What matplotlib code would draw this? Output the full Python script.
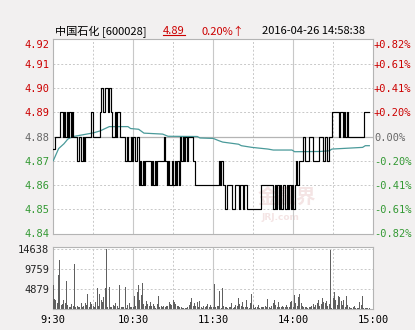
import matplotlib
matplotlib.use("Agg")
import matplotlib.pyplot as plt
from matplotlib.lines import Line2D

# Intraday data, one value per minute from 9:30 (lunch break removed)
price = [
    4.875, 4.88, 4.88, 4.88, 4.88, 4.89, 4.89, 4.88, 4.89, 4.88,
    4.89, 4.88, 4.89, 4.88, 4.89, 4.88, 4.88, 4.88, 4.87, 4.88,
    4.88, 4.87, 4.88, 4.87, 4.88, 4.88, 4.88, 4.88, 4.89, 4.89,
    4.88, 4.88, 4.88, 4.88, 4.88, 4.89, 4.90, 4.89, 4.89, 4.90,
    4.90, 4.89, 4.90, 4.89, 4.88, 4.88, 4.89, 4.88, 4.89, 4.89,
    4.88, 4.88, 4.88, 4.88, 4.87, 4.88, 4.87, 4.87, 4.88, 4.87,
    4.88, 4.87, 4.87, 4.88, 4.86, 4.87, 4.86, 4.87, 4.86, 4.87,
    4.87, 4.87, 4.87, 4.86, 4.87, 4.86, 4.87, 4.86, 4.87, 4.87,
    4.87, 4.87, 4.87, 4.88, 4.87, 4.86, 4.87, 4.86, 4.86, 4.87,
    4.86, 4.87, 4.86, 4.87, 4.86, 4.88, 4.87, 4.88, 4.87, 4.88,
    4.87, 4.88, 4.88, 4.88, 4.88, 4.87, 4.86, 4.86, 4.86, 4.86,
    4.86, 4.86, 4.86, 4.86, 4.86, 4.86, 4.86, 4.86, 4.86, 4.86,
    4.86, 4.86, 4.86, 4.86, 4.87, 4.86, 4.87, 4.86, 4.86, 4.85,
    4.86, 4.86, 4.86, 4.86, 4.85, 4.85, 4.86, 4.86, 4.86, 4.85,
    4.86, 4.86, 4.85, 4.86, 4.86, 4.85, 4.85, 4.85, 4.85, 4.85,
    4.85, 4.85, 4.85, 4.85, 4.85, 4.85, 4.86, 4.86, 4.86, 4.86,
    4.86, 4.86, 4.86, 4.86, 4.86, 4.85, 4.86, 4.85, 4.86, 4.85,
    4.86, 4.85, 4.86, 4.86, 4.85, 4.86, 4.85, 4.86, 4.85, 4.86,
    4.85, 4.86, 4.87, 4.86, 4.87, 4.87, 4.87, 4.88, 4.88, 4.87,
    4.87, 4.87, 4.88, 4.88, 4.88, 4.87, 4.87, 4.87, 4.87, 4.88,
    4.88, 4.88, 4.87, 4.87, 4.88, 4.87, 4.87, 4.88, 4.88, 4.89,
    4.89, 4.89, 4.89, 4.89, 4.88, 4.89, 4.89, 4.88, 4.89, 4.88,
    4.89, 4.88, 4.88, 4.88, 4.88, 4.88, 4.88, 4.88, 4.88, 4.88,
    4.88, 4.88, 4.88, 4.89, 4.89, 4.89, 4.89, 4.89,
]

volume = [
    5900, 2500, 2300, 1500, 8400, 12000, 1050, 1200, 2300, 1500,
    6900, 1050, 650, 650, 1200, 900, 11000, 650, 800, 570,
    650, 1500, 500, 800, 1500, 1050, 3650, 650, 1700, 1200,
    800, 650, 1700, 5100, 800, 3650, 2300, 1700, 3100, 5100,
    14638, 650, 5500, 500, 650, 1050, 800, 1500, 900, 400,
    5900, 650, 500, 650, 5450, 400, 1050, 1500, 500, 500,
    570, 3350, 900, 4300, 5900, 2300, 3500, 6500, 1200, 800,
    2000, 1200, 800, 1700, 900, 1200, 800, 400, 1200, 3350,
    650, 800, 500, 900, 650, 800, 800, 1700, 1200, 1050,
    2300, 1900, 1200, 800, 800, 500, 570, 400, 400, 400,
    400, 570, 1050, 1900, 2850, 800, 1500, 900, 1700, 650,
    2000, 650, 400, 800, 650, 900, 1200, 650, 1050, 650,
    650, 6100, 650, 800, 800, 4470, 400, 5100, 800, 650,
    500, 250, 650, 650, 1450, 400, 570, 1050, 800, 2700,
    1200, 800, 1900, 650, 650, 2300, 650, 400, 1450, 3650,
    1050, 400, 570, 650, 1050, 400, 650, 650, 500, 800,
    650, 2450, 650, 400, 800, 1450, 2300, 1050, 650, 1900,
    650, 650, 800, 500, 570, 1050, 650, 570, 1700, 2000,
    650, 3500, 1450, 800, 3100, 3650, 1450, 800, 570, 650,
    500, 400, 650, 650, 800, 1200, 650, 1050, 1450, 2300,
    900, 1200, 2700, 1700, 1450, 2000, 800, 1200, 14470, 400,
    2700, 4150, 2300, 1050, 3250, 3100, 2000, 1050, 2300, 650,
    3250, 1050, 650, 250, 250, 650, 800, 250, 250, 250,
    1900, 1050, 3250, 250, 250, 400, 250, 250,
]

# average price line, read at (minute, price) points
avg_minutes = [0, 4, 8, 11, 15, 30, 35, 42, 56, 58, 64, 68, 82, 86, 108, 110,
               120, 124, 127, 139, 141, 149, 161, 165, 179, 181, 200, 207, 209, 232, 234, 237]
avg_price = [4.870, 4.875, 4.877, 4.879, 4.880, 4.8815, 4.8823, 4.8841, 4.8841, 4.8833,
             4.8830, 4.8814, 4.8810, 4.8801, 4.8800, 4.8794, 4.8792, 4.8783, 4.8777, 4.8768,
             4.8762, 4.8755, 4.8748, 4.8744, 4.8744, 4.8737, 4.8738, 4.8741, 4.8748, 4.8755,
             4.8762, 4.8762]

price_ticks = [4.92, 4.91, 4.90, 4.89, 4.88, 4.87, 4.86, 4.85, 4.84]
pct_labels = ["+0.82%", "+0.61%", "+0.41%", "+0.20%", "0.00%",
              "-0.20%", "-0.41%", "-0.61%", "-0.82%"]
vol_ticks = [4879, 9759, 14638]
time_ticks = [0, 60, 120, 180, 240]
time_labels = ["9:30", "10:30", "11:30", "14:00", "15:00"]
prev_close = 4.88

RED = "#cc0000"
GREEN = "#339933"
GRAY = "#666666"
GRID = "#c8c8c8"
MONO = "DejaVu Sans Mono"

W, H = 415, 330
fig = plt.figure(figsize=(W / 100, H / 100), dpi=100, facecolor="#f2f0f0")


def px_axes(left, top, right, bottom):
    return fig.add_axes([left / W, 1 - bottom / H, (right - left) / W, (bottom - top) / H])


ax = px_axes(53.3, 38.5, 373.3, 233.8)
axv = px_axes(53.3, 247.3, 373.3, 309.3)

for a in (ax, axv):
    a.set_facecolor("white")
    a.set_xlim(0, 240)
    for s in a.spines.values():
        s.set_color("#b4b4b4")
        s.set_linewidth(0.8)
    for t in range(30, 240, 30):
        if t % 60 == 0:
            a.axvline(t, color=GRID, lw=0.8, zorder=1)
        else:
            a.axvline(t, color=GRID, lw=0.7, ls=(0, (2, 2)), zorder=1)

# ── Price panel ─────────────────────────────────────
ax.set_ylim(4.8397, 4.9206)
for p in price_ticks[1:-1]:
    if p == prev_close:
        ax.axhline(p, color="#b4b4b4", lw=0.9, zorder=1)
    else:
        ax.axhline(p, color=GRID, lw=0.7, ls=(0, (2, 2)), zorder=1)

# faint site watermark
ax.text(0.73, 0.185, "金融界", transform=ax.transAxes, fontsize=14, color="#f4e4e4",
        family=["Noto Sans CJK SC"], fontweight="bold", ha="center", va="center", zorder=0)
ax.text(0.71, 0.085, "JRJ.com", transform=ax.transAxes, fontsize=6.5, color="#f4e4e4",
        fontweight="bold", ha="center", va="center", zorder=0)

minutes = list(range(len(price)))
ax.plot(avg_minutes, avg_price, color="#4a9a9a", lw=0.9, zorder=3)
ax.plot(minutes, price, color="black", lw=0.85, drawstyle="steps-post", zorder=4)

colors = [RED if p > prev_close else GREEN if p < prev_close else GRAY for p in price_ticks]
ax.set_xticks([])
ax.set_yticks(price_ticks)
ax.set_yticklabels([f"{p:.2f}" for p in price_ticks], family=MONO, fontsize=7.5)
ax.tick_params(axis="y", length=0, pad=3)
for lbl, c in zip(ax.get_yticklabels(), colors):
    lbl.set_color(c)
ax.get_yticklabels()[0].set_va("top")

axr = ax.twinx()
axr.set_ylim(ax.get_ylim())
axr.set_yticks(price_ticks)
axr.set_yticklabels(pct_labels, family=MONO, fontsize=7.5)
axr.tick_params(axis="y", length=0, pad=0.5)
for lbl, c in zip(axr.get_yticklabels(), colors):
    lbl.set_color(c)
axr.get_yticklabels()[0].set_va("top")
for s in axr.spines.values():
    s.set_visible(False)

# ── Volume panel ────────────────────────────────────
axv.set_ylim(0, 15130)
for v in vol_ticks:
    axv.axhline(v, color=GRID, lw=0.7, ls=(0, (2, 2)), zorder=1)
axv.bar(range(len(volume)), volume, width=0.75, color="#606060", zorder=3)
axv.set_yticks(vol_ticks)
axv.set_yticklabels([str(v) for v in vol_ticks], family=MONO, fontsize=7.5, color="#222222")
axv.set_xticks(time_ticks)
axv.set_xticklabels(time_labels, family=MONO, fontsize=7.5)
axv.tick_params(length=0, pad=3)
axv.tick_params(axis="x", pad=4)

# ── Header ──────────────────────────────────────────
cjk = ["Noto Sans CJK SC", "DejaVu Sans"]
ty = 1 - 31.5 / H
fig.text(55 / W, ty, "中国石化 [600028]", family=cjk, fontsize=8, va="center")
t_price = fig.text(163 / W, ty, "4.89", family=cjk, fontsize=8, color=RED, va="center")
fig.text(201 / W, ty, "0.20%↑", family=cjk, fontsize=8, color=RED, va="center")
fig.text(262 / W, ty, "2016-04-26 14:58:38", family=cjk, fontsize=8, va="center")

fig.canvas.draw()
bb = t_price.get_window_extent().transformed(fig.transFigure.inverted())
fig.add_artist(Line2D([bb.x0, bb.x1], [bb.y0 + 0.004, bb.y0 + 0.004],
                      transform=fig.transFigure, color=RED, lw=0.8))

fig.savefig("out.png", dpi=100, facecolor=fig.get_facecolor())
